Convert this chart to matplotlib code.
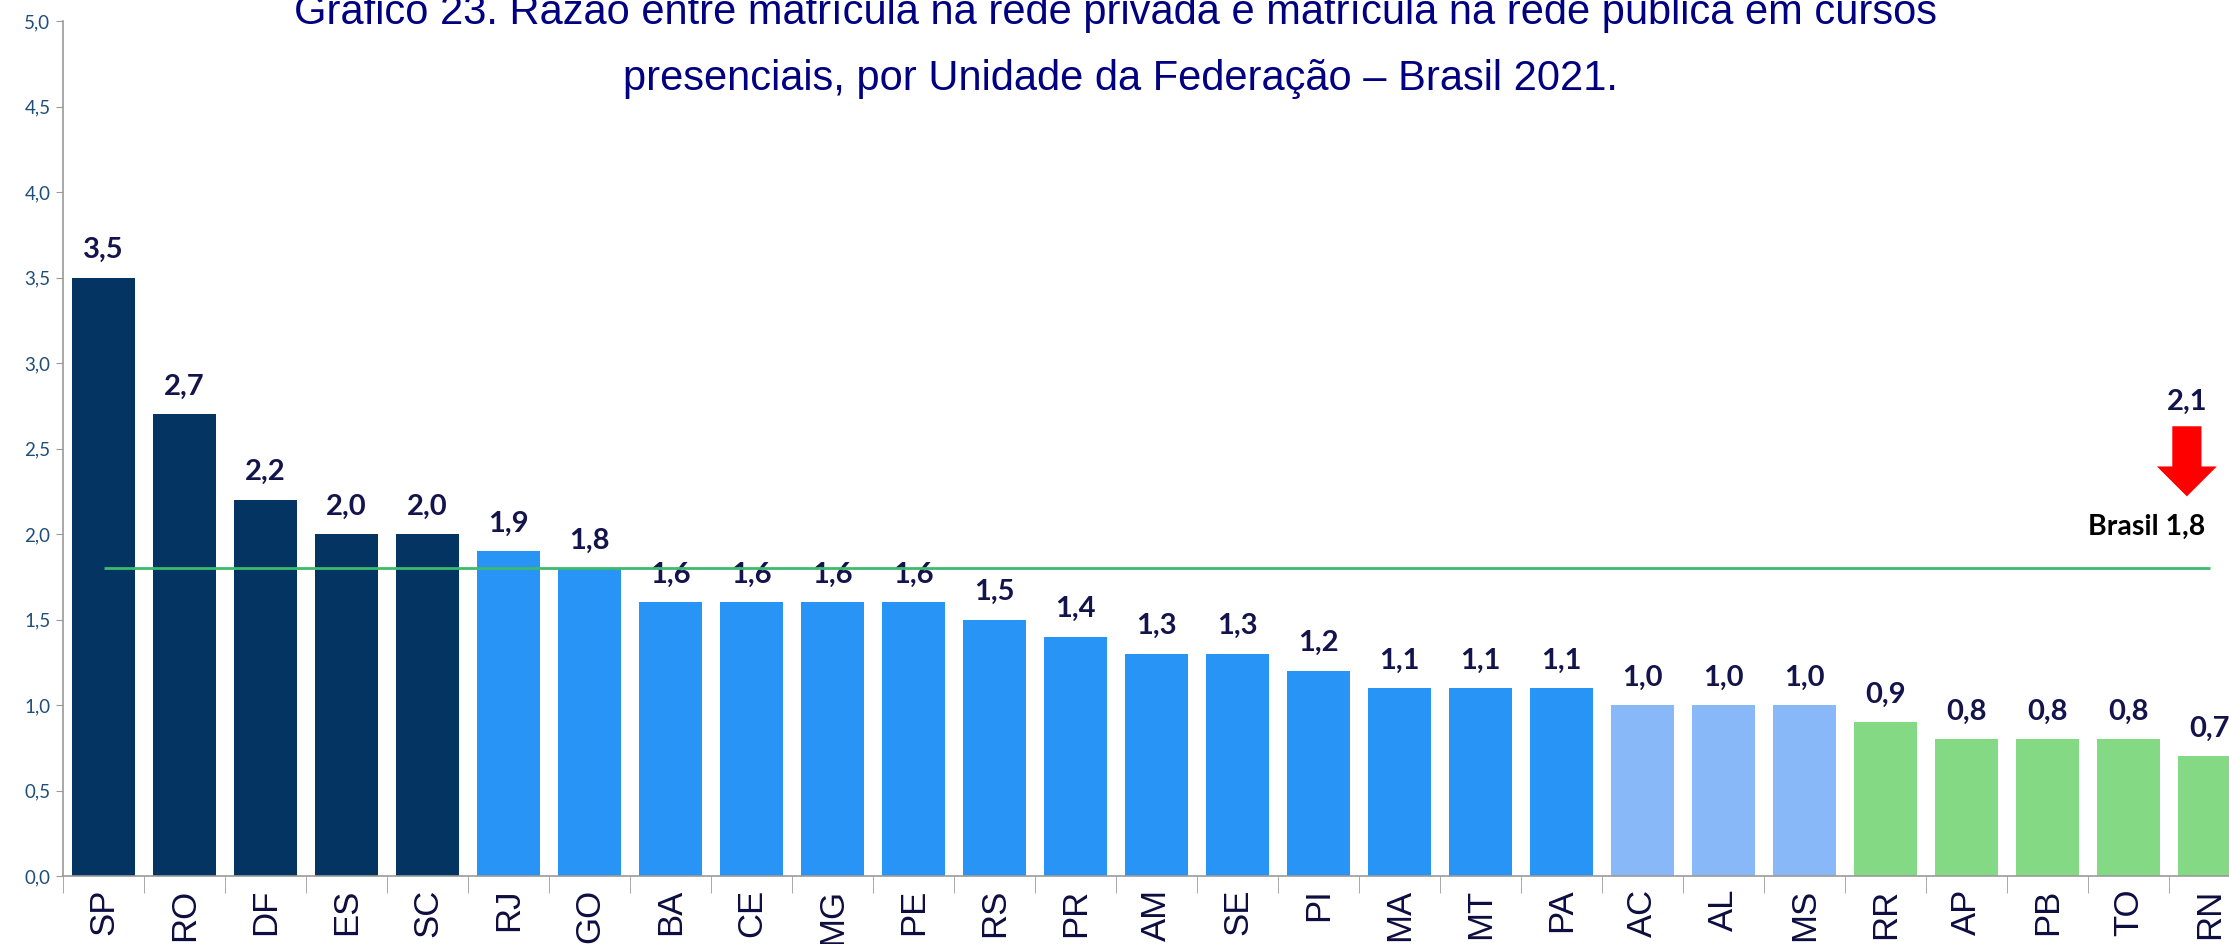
import numpy as np
import matplotlib
matplotlib.use("Agg")
import matplotlib.pyplot as plt
from matplotlib.patches import FancyArrow
from matplotlib.ticker import FixedLocator

# data
ufs = ["SP", "RO", "DF", "ES", "SC", "RJ", "GO", "BA", "CE", "MG", "PE", "RS", "PR",
       "AM", "SE", "PI", "MA", "MT", "PA", "AC", "AL", "MS", "RR", "AP", "PB", "TO", "RN"]
razao = [3.5, 2.7, 2.2, 2.0, 2.0, 1.9, 1.8, 1.6, 1.6, 1.6, 1.6, 1.5, 1.4,
         1.3, 1.3, 1.2, 1.1, 1.1, 1.1, 1.0, 1.0, 1.0, 0.9, 0.8, 0.8, 0.8, 0.7]
grupo = [0] * 5 + [1] * 14 + [2] * 3 + [3] * 5
brasil = 1.8
brasil_anterior = 2.1

cores = ["#043461", "#2894F6", "#89B8F9", "#84D985"]
navy_lbl = "#14144C"

def br(v):
    return f"{v:.1f}".replace(".", ",")

fig = plt.figure(figsize=(22.29, 9.44), dpi=100)
ax = fig.add_axes([63 / 2229, 68 / 944, 1 - 63 / 2229, 855 / 944])

x = np.arange(len(ufs))
ax.bar(x, razao, width=0.77, color=[cores[g] for g in grupo], zorder=2)

# rótulos de valor
for xi, v in zip(x, razao):
    ax.annotate(br(v), (xi, v), xytext=(0, 14), textcoords="offset points",
                ha="center", va="baseline", fontsize=21, fontweight="bold",
                family="Lato", color=navy_lbl, annotation_clip=False)

# linha Brasil
ax.hlines(brasil, 0, len(ufs) - 1, color="#3CBA6E", lw=2, zorder=3)
ax.text(25.95, 2.04, f"Brasil {br(brasil)}", ha="right", va="center",
        fontsize=20.5, fontweight="bold", family="Lato", color="black")
ax.text(25.72, 2.77, br(brasil_anterior), ha="center", va="center",
        fontsize=21, fontweight="bold", family="Lato", color=navy_lbl)
ax.add_patch(FancyArrow(25.72, 2.63, 0, -0.41, width=0.36, head_width=0.74,
                        head_length=0.175, length_includes_head=True,
                        color="#FF0000", lw=0, zorder=4))

ax.set_xlim(-0.5, 26.24)
ax.set_ylim(0, 5)
ax.set_yticks(np.arange(0, 5.01, 0.5))
ax.set_yticklabels([br(v) for v in np.arange(0, 5.01, 0.5)], family="Lato",
                   fontsize=13.5, color="#1F4E79")
ax.tick_params(axis="y", length=5, color="#9A9A9A", pad=4)

ax.set_xticks(x)
ax.set_xticklabels(ufs, rotation=90, family="Liberation Sans", fontsize=25,
                   color="#0D0D40")
ax.tick_params(axis="x", which="major", length=0, pad=9)
ax.xaxis.set_minor_locator(FixedLocator(np.arange(-0.5, len(ufs), 1)))
ax.tick_params(axis="x", which="minor", length=12, color="#9A9A9A")

for s in ["top", "right"]:
    ax.spines[s].set_visible(False)
for s in ["left", "bottom"]:
    ax.spines[s].set_color("#9A9A9A")
    ax.spines[s].set_linewidth(1.2)
ax.patch.set_alpha(0)

titulo1 = "Gráfico 23. Razão entre matrícula na rede privada e matrícula na rede pública em cursos"
titulo2 = "presenciais, por Unidade da Federação – Brasil 2021."
fig.text(1116 / 2229, 1 - 24 / 944, titulo1, ha="center", va="baseline",
         fontsize=30, family="Liberation Sans", color="#000080")
fig.text(1120 / 2229, 1 - 90 / 944, titulo2, ha="center", va="baseline",
         fontsize=30, family="Liberation Sans", color="#000080")

fig.savefig("out.png", dpi=100, facecolor="white")
